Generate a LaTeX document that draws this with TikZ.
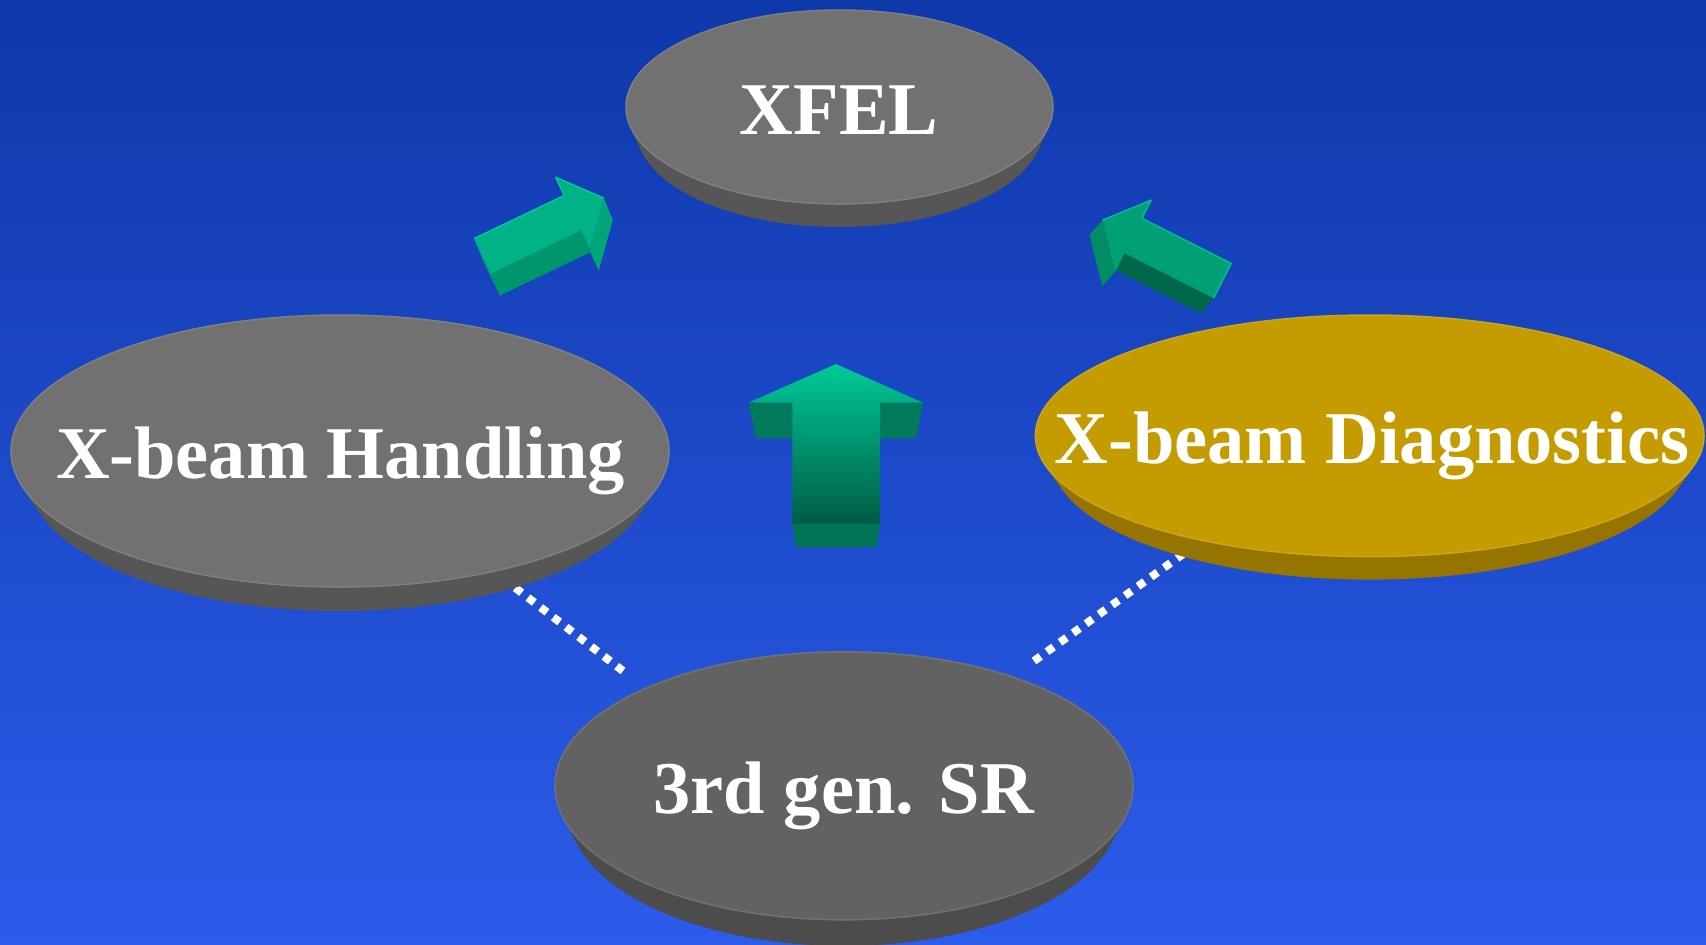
\documentclass[tikz,border=0pt]{standalone}
\usepackage{fontspec}
\setmainfont{Liberation Serif}
\usetikzlibrary{calc}

\definecolor{bgtop}{RGB}{14,56,170}
\definecolor{bgbot}{RGB}{44,92,234}
% disc colours
\definecolor{greytop}{RGB}{113,113,113}
\definecolor{greysideA}{RGB}{99,99,99}
\definecolor{greysideB}{RGB}{86,86,86}
\definecolor{darktop}{RGB}{98,98,98}
\definecolor{darksideA}{RGB}{88,88,88}
\definecolor{darksideB}{RGB}{76,76,76}
\definecolor{goldtop}{RGB}{196,156,0}
\definecolor{goldsideA}{RGB}{174,136,0}
\definecolor{goldsideB}{RGB}{150,116,0}
% arrow colours
\definecolor{aOneTop}{RGB}{0,179,134}
\definecolor{aOneShaft}{RGB}{0,150,108}
\definecolor{aOneHead}{RGB}{0,166,122}
\definecolor{aOneTail}{RGB}{0,158,116}
\definecolor{aOneEdge}{RGB}{0,206,156}
\definecolor{aTwoTop}{RGB}{0,160,118}
\definecolor{aTwoShaft}{RGB}{0,102,74}
\definecolor{aTwoHead}{RGB}{0,140,100}
\definecolor{aTwoEdge}{RGB}{0,196,146}
\definecolor{aUpLight}{RGB}{0,202,152}
\definecolor{aUpDark}{RGB}{0,92,68}
\definecolor{aUpSide}{RGB}{0,122,90}

\tikzset{
  disctext/.style={text=white, font=\fontsize{21.17pt}{25pt}\selectfont\bfseries,
                   inner sep=0pt, anchor=base},
  dotline/.style={white, line width=0.08cm, dash pattern=on 0.08cm off 0.08cm},
}

% thick disc: #1 cx, #2 cy, #3 rx, #4 ry, #5 thickness, #6 top, #7/#8 side colours
\newcommand\xdisc[8]{%
  \foreach \s in {0,...,24}{
    \pgfmathsetmacro\f{\s/24}
    \pgfmathsetmacro\p{100*\f}
    \fill[#8!\p!#7] (#1,{#2+\f*#5}) ellipse [x radius={#3*(1-0.05*\f)}, y radius=#4];
  }
  \fill[#6, draw=#6!90!white, line width=0.015cm] (#1,#2) ellipse [x radius=#3, y radius=#4];
}

\begin{document}
\begin{tikzpicture}[x=0.01cm, y=-0.01cm]
  \useasboundingbox (0,0) rectangle (1706,944);
  \clip (0,0) rectangle (1706,944);
  \shade[top color=bgtop, bottom color=bgbot] (0,0) rectangle (1706,944);

  % dotted links, running under the discs
  \coordinate (dlA) at (623,671);
  \coordinate (dlB) at (500,576);
  \coordinate (drA) at (1034,661);
  \coordinate (drB) at (1190,549);
  \draw[dotline] (dlA) -- (dlB);
  \draw[dotline] (drA) -- (drB);

  % discs
  \xdisc{839.5}{107}{213.5}{97}{23}{greytop}{greysideA}{greysideB}
  \xdisc{340}{451}{329}{136}{24}{greytop}{greysideA}{greysideB}
  \xdisc{1369.7}{435.8}{334.3}{120.8}{23}{goldtop}{goldsideA}{goldsideB}
  \xdisc{844}{785.8}{289}{134}{26}{darktop}{darksideA}{darksideB}

  % block arrow towards XFEL from the left
  \coordinate (p1) at (474,238.5);
  \coordinate (p2) at (564.2,195.4);
  \coordinate (p3) at (555.5,177.1);
  \coordinate (p4) at (603.8,198);
  \coordinate (p5) at (589.7,248.7);
  \coordinate (p6) at (581,230.4);
  \coordinate (p7) at (490.8,273.5);
  \begin{scope}[shift={(9,22)}]
    \coordinate (p1e) at (474,238.5);
    \coordinate (p4e) at (603.8,198);
    \coordinate (p5e) at (589.7,248.7);
    \coordinate (p6e) at (581,230.4);
    \coordinate (p7e) at (490.8,273.5);
  \end{scope}
  \fill[aOneTail] (p7) -- (p1) -- (p1e) -- (p7e) -- cycle;
  \fill[aOneShaft] (p6) -- (p7) -- (p7e) -- (p6e) -- cycle;
  \fill[aOneShaft] (p5) -- (p6) -- (p6e) -- (p5e) -- cycle;
  \fill[aOneHead] (p4) -- (p5) -- (p5e) -- (p4e) -- cycle;
  \fill[aOneTop] (p1) -- (p2) -- (p3) -- (p4) -- (p5) -- (p6) -- (p7) -- cycle;
  \draw[aOneEdge, line width=0.012cm, line join=round] (p1) -- (p2) -- (p3) -- (p4);

  % block arrow towards XFEL from the right
  \coordinate (q1) at (1231.3,263.4);
  \coordinate (q2) at (1142.1,218.3);
  \coordinate (q3) at (1151.3,200);
  \coordinate (q4) at (1102.4,220.1);
  \coordinate (q5) at (1115.3,271.4);
  \coordinate (q6) at (1124.5,253.1);
  \coordinate (q7) at (1213.7,298.2);
  \begin{scope}[shift={(-13,15)}]
    \coordinate (q4e) at (1102.4,220.1);
    \coordinate (q5e) at (1115.3,271.4);
    \coordinate (q6e) at (1124.5,253.1);
    \coordinate (q7e) at (1213.7,298.2);
  \end{scope}
  \fill[aTwoShaft] (q6) -- (q7) -- (q7e) -- (q6e) -- cycle;
  \fill[aTwoHead] (q4) -- (q5) -- (q5e) -- (q4e) -- cycle;
  \fill[aTwoTop] (q1) -- (q2) -- (q3) -- (q4) -- (q5) -- (q6) -- (q7) -- cycle;
  \draw[aTwoEdge, line width=0.012cm, line join=round] (q7) -- (q1) -- (q2) -- (q3) -- (q4);

  % upright arrow in the middle
  \coordinate (r1) at (836,364);
  \coordinate (r2) at (923.3,402.7);
  \coordinate (r3) at (880,402.7);
  \coordinate (r4) at (880,523.3);
  \coordinate (r5) at (792.3,523.3);
  \coordinate (r6) at (792.3,402.7);
  \coordinate (r7) at (748.3,402.7);
  \fill[aUpSide] (r7) -- (r6) -- (792.3,438.3) -- (756,438.3) -- cycle;
  \fill[aUpSide] (r3) -- (r2) -- (916,438.3) -- (880,438.3) -- cycle;
  \fill[aUpSide!95!black] (r5) -- (r4) -- (876.7,547.3) -- (796,547.3) -- cycle;
  \shade[top color=aUpLight, bottom color=aUpDark]
    (r1) -- (r2) -- (r3) -- (r4) -- (r5) -- (r6) -- (r7) -- cycle;

  % disc labels
  \node[disctext] (t-xfel) at (839.2,134.3) {XFEL};
  \node[disctext] (t-hand) at (340.4,478.3) {X-beam Handling};
  \node[disctext] (t-diag) at (1372,463.3) {X-beam Diagnostics};
  \node[disctext] (t-sr) at (843.9,813.3) {3rd gen. SR};
\end{tikzpicture}
\end{document}
